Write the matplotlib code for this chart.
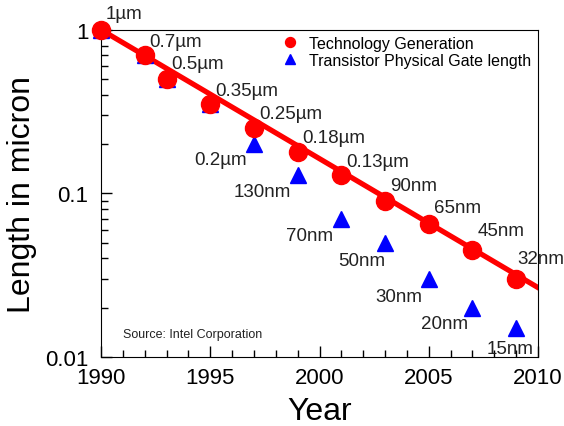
import matplotlib
matplotlib.use('Agg')
import matplotlib.pyplot as plt
from matplotlib.ticker import LogLocator, NullFormatter, MultipleLocator

plt.rcParams['font.family'] = ['Liberation Sans', 'DejaVu Sans']

years = [1990, 1992, 1993, 1995, 1997, 1999, 2001, 2003, 2005, 2007, 2009]
tech_gen = [1.0, 0.7, 0.5, 0.35, 0.25, 0.18, 0.13, 0.09, 0.065, 0.045, 0.03]
gate_len = [1.0, 0.7, 0.5, 0.35, 0.2, 0.13, 0.07, 0.05, 0.03, 0.02, 0.015]
tech_labels = ['1µm', '0.7µm', '0.5µm', '0.35µm', '0.25µm', '0.18µm', '0.13µm',
               '90nm', '65nm', '45nm', '32nm']
gate_labels = ['0.2µm', '130nm', '70nm', '50nm', '30nm', '20nm', '15nm']
trend_years = [1990, 2010]
trend_vals = [1.0, 0.0265]

fig = plt.figure(figsize=(5.64, 4.27), dpi=100)
ax = fig.add_axes([0.179, 0.162, 0.775, 0.766])

ax.plot(trend_years, trend_vals, color='red', lw=3.8, zorder=2)
ax.plot(years, gate_len, '^', color='blue', ms=12, ls='none', zorder=3,
        clip_on=False, label='Transistor Physical Gate length')
ax.plot(years, tech_gen, 'o', color='red', ms=13, ls='none', zorder=4,
        clip_on=False, label='Technology Generation')

# label placement in pixels (hand tuned to sit like the original)
tech_dx = [5, 5, 5, 5, 5, 5, 5, 5, 5, 5, 1]
tech_dy = [16, 14, 15, 14, 15, 14, 13, 15, 16, 19, 20]
gate_dx = [-7, -7, -8, 0, -6, -4, 17]
gate_dy = [-15, -17, -17, -18, -18, -16, -20]

for x, y, t, dx, dy in zip(years, tech_gen, tech_labels, tech_dx, tech_dy):
    ax.annotate(t, (x, y), xytext=(dx, dy), textcoords='offset pixels',
                ha='left', va='center', fontsize=13.5, color='#222222',
                zorder=5, annotation_clip=False)

# gate labels only where they differ from the generation name
for x, y, t, dx, dy in zip(years[4:], gate_len[4:], gate_labels, gate_dx, gate_dy):
    ax.annotate(t, (x, y), xytext=(dx, dy), textcoords='offset pixels',
                ha='right', va='center', fontsize=13.5, color='#222222',
                zorder=5, annotation_clip=False)

ax.set_yscale('log')
ax.set_xlim(1990, 2010)
ax.set_ylim(0.01, 1)
ax.xaxis.set_major_locator(MultipleLocator(5))
ax.xaxis.set_minor_locator(MultipleLocator(1))
ax.yaxis.set_minor_locator(LogLocator(base=10, subs=range(2, 10)))
ax.yaxis.set_minor_formatter(NullFormatter())
ax.set_yticks([0.01, 0.1, 1])
ax.set_yticklabels(['0.01', '0.1', '1'])
ax.tick_params(which='both', direction='in', labelsize=16)
ax.tick_params(which='major', length=8, width=1)
ax.tick_params(which='minor', length=5, width=1)
ax.tick_params(axis='x', pad=7)
ax.tick_params(axis='y', pad=9)

ax.set_xlabel('Year', fontsize=23, labelpad=6)
ax.set_ylabel('Length in micron', fontsize=23, labelpad=6)

handles, labels = ax.get_legend_handles_labels()
ax.legend(handles[::-1], labels[::-1], loc='upper right', frameon=False,
          fontsize=11.5, markerscale=0.55, handletextpad=0.6,
          bbox_to_anchor=(1.018, 1.025), labelspacing=0.1, handlelength=1.2)

ax.text(0.05, 0.06, 'Source: Intel Corporation', transform=ax.transAxes,
        fontsize=9, color='#222222')

fig.savefig('out.png', dpi=100)
